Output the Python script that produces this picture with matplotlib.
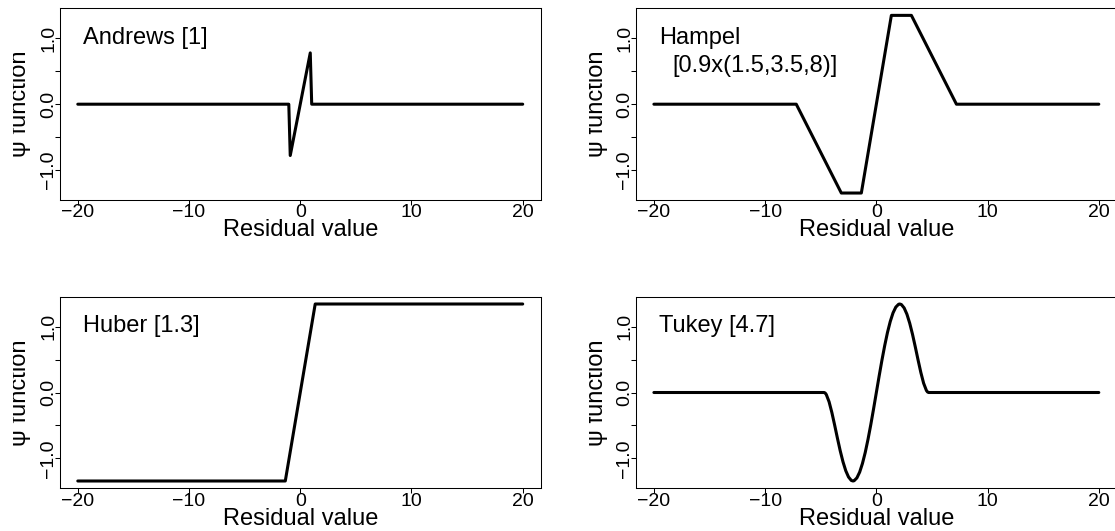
import matplotlib
matplotlib.use("Agg")
import matplotlib.pyplot as plt
from matplotlib.transforms import Bbox, TransformedBbox

plt.rcParams["font.family"] = ["Liberation Sans", "DejaVu Sans"]

# psi functions of the four M-estimators, as residual / psi pairs
andrews_x = [-20, -1.03, -0.9, 0.9, 1.03, 20]
andrews_y = [0, 0, -0.78, 0.78, 0, 0]

hampel_x = [-20, -7.2, -3.15, -1.35, 1.35, 3.15, 7.2, 20]
hampel_y = [0, 0, -1.35, -1.35, 1.35, 1.35, 0, 0]

huber_x = [-20, -1.345, 1.345, 20]
huber_y = [-1.345, -1.345, 1.345, 1.345]

tukey_x = [-20, -4.7, -4.6, -4.5, -4.25, -4.0, -3.75, -3.5, -3.25, -3.0, -2.75, -2.5, -2.25,
           -2.1, -2.0, -1.75, -1.5, -1.25, -1.0, -0.75, -0.5, -0.25, 0,
           0.25, 0.5, 0.75, 1.0, 1.25, 1.5, 1.75, 2.0, 2.1, 2.25, 2.5, 2.75,
           3.0, 3.25, 3.5, 3.75, 4.0, 4.25, 4.5, 4.6, 4.7, 20]
tukey_y = [0, 0, -0.008, -0.031, -0.141, -0.304, -0.495, -0.694, -0.885, -1.053, -1.189, -1.285, -1.337,
           -1.345, -1.341, -1.298, -1.210, -1.079, -0.912, -0.712, -0.489, -0.249, 0,
           0.249, 0.489, 0.712, 0.912, 1.079, 1.210, 1.298, 1.341, 1.345, 1.337, 1.285, 1.189,
           1.053, 0.885, 0.694, 0.495, 0.304, 0.141, 0.031, 0.008, 0, 0]

panel_labels = [["Andrews [1]"], ["Hampel", "[0.9x(1.5,3.5,8)]"], ["Huber [1.3]"], ["Tukey [4.7]"]]

x_ticks = [-20, -10, 0, 10, 20]
x_ticklabels = ["\u221220", "\u221210", "0", "10", "20"]
y_ticks = [-1.0, -0.5, 0.0, 0.5, 1.0]
y_ticklabels = ["\u22121.0", "", "0.0", "", "1.0"]

fig = plt.figure(figsize=(11.15, 5.31), dpi=100)
W, H = 1115.0, 531.0

# axes rectangles in pixels: left, top, width, height
boxes = [(60, 8.4, 480.5, 191.6), (636.1, 8.4, 480.5, 191.6),
         (60, 296.7, 480.5, 191.6), (636.1, 296.7, 480.5, 191.6)]
curves = [(andrews_x, andrews_y), (hampel_x, hampel_y), (huber_x, huber_y), (tukey_x, tukey_y)]

for (px, py, pw, ph), (xs, ys), label in zip(boxes, curves, panel_labels):
    ax = fig.add_axes([px / W, 1 - (py + ph) / H, pw / W, ph / H])
    ax.plot(xs, ys, color="black", lw=2.2, solid_joinstyle="round", solid_capstyle="round")
    ax.set_xlim(-21.6, 21.6)
    ax.set_ylim(-1.456, 1.456)

    ax.set_xticks(x_ticks)
    ax.set_xticklabels(x_ticklabels)
    ax.set_yticks(y_ticks)
    ax.set_yticklabels(y_ticklabels, rotation=90, va="center")
    ax.tick_params(axis="both", direction="out", length=3.6, width=0.75, labelsize=14)
    ax.tick_params(axis="x", pad=-0.4)
    ax.tick_params(axis="y", pad=-1.5)
    for sp in ax.spines.values():
        sp.set_linewidth(0.75)

    ax.text(0.5, -36.5 / ph, "Residual value", transform=ax.transAxes,
            ha="center", va="baseline", fontsize=17)

    # y label sits close to the frame and loses its left edge
    ylab = ax.text(-33.5 / pw, 0.5, "\u03c8 function", transform=ax.transAxes,
                   rotation=90, rotation_mode="anchor", ha="center", va="baseline",
                   fontsize=17)
    clip = TransformedBbox(Bbox([[-47.0 / pw, -1.0], [2.0, 2.0]]), ax.transAxes)
    ylab.set_clip_box(clip)
    ylab.set_clip_on(True)

    for i, line in enumerate(label):
        ax.text((23 + i * 13.5) / pw, 1 - (35.5 + i * 28.5) / ph, line, transform=ax.transAxes,
                ha="left", va="baseline", fontsize=17)

fig.savefig("out.png", dpi=100)
